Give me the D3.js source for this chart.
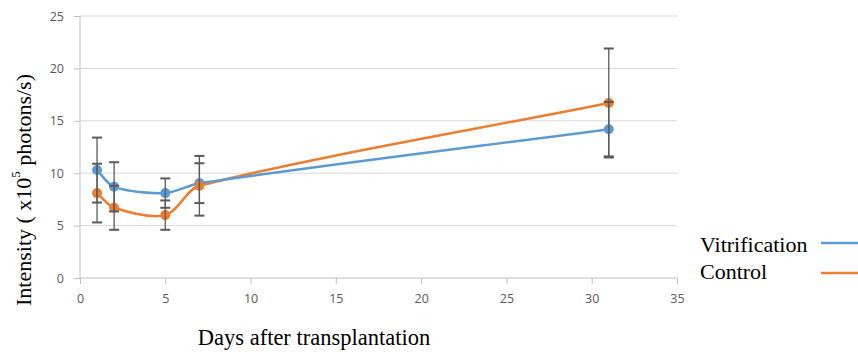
<!DOCTYPE html>
<html><head><meta charset="utf-8">
<script src="https://cdn.jsdelivr.net/npm/d3@7"></script>
<style>body{margin:0;background:#fff}svg{display:block}</style>
</head><body>
<svg id="c" width="858" height="352"></svg>
<script>
const days = [1, 2, 5, 7, 31];
const vitrification = [10.3, 8.7, 8.1, 9.05, 14.2];
const vitrificationErr = [3.1, 2.35, 1.4, 1.9, 2.6];
const control = [8.1, 6.7, 6.0, 8.8, 16.7];
const controlErr = [2.8, 2.1, 1.4, 2.85, 5.2];
const xTicks = [0, 5, 10, 15, 20, 25, 30, 35];
const yTicks = [0, 5, 10, 15, 20, 25];
const seriesNames = ["Vitrification", "Control"];
const colors = ["#5B9BD5", "#ED7D31"];

const SERIF = "Liberation Serif, Times New Roman, Times, Tinos, DejaVu Serif, Noto Serif, serif";
const svg = d3.select("#c");
const x = d3.scaleLinear().domain([0, 35]).range([80, 677]);
const y = d3.scaleLinear().domain([0, 25]).range([278, 16]);

// grid
svg.append("g").selectAll("line").data(yTicks.filter(d => d > 0)).join("line")
  .attr("x1", x(0)).attr("x2", x(35)).attr("y1", d => y(d)).attr("y2", d => y(d))
  .attr("stroke", "#d9d9d9").attr("stroke-width", 1);

// y axis
const yAxis = svg.append("g").attr("transform", `translate(${x(0)},0)`)
  .call(d3.axisLeft(y).tickValues(yTicks).tickSize(6).tickPadding(10));
yAxis.select(".domain").attr("stroke", "#bfbfbf").attr("d", `M0,${y(0)}V${y(25)}`);
yAxis.selectAll(".tick line").attr("stroke", "#bfbfbf");
yAxis.selectAll("text").attr("fill", "#595959").attr("font-family", "Open Sans, sans-serif").attr("font-size", "12.5px");

// x axis
const xAxis = svg.append("g").attr("transform", `translate(0,${y(0)})`)
  .call(d3.axisBottom(x).tickValues(xTicks).tickSize(6).tickPadding(10));
xAxis.select(".domain").attr("stroke", "#bfbfbf").attr("d", `M${x(0)},0H${x(35)}`);
xAxis.selectAll(".tick line").attr("stroke", "#bfbfbf");
xAxis.selectAll("text").attr("fill", "#595959").attr("font-family", "Open Sans, sans-serif").attr("font-size", "12.5px");

const series = [
  {name: seriesNames[0], vals: vitrification, err: vitrificationErr, color: colors[0]},
  {name: seriesNames[1], vals: control, err: controlErr, color: colors[1]}
];

// Excel-like smoothing: tangent direction from neighbours, length scaled by the segment being drawn
function smoothPath(pts, k) {
  const p = d3.path();
  const n = pts.length;
  const dir = pts.map((q, i) => {
    const a = pts[Math.max(0, i - 1)], b = pts[Math.min(n - 1, i + 1)];
    const dx = b[0] - a[0], dy = b[1] - a[1], L = Math.hypot(dx, dy) || 1;
    return [dx / L, dy / L];
  });
  p.moveTo(pts[0][0], pts[0][1]);
  for (let i = 0; i < n - 1; i++) {
    const a = pts[i], b = pts[i + 1];
    const L = Math.hypot(b[0] - a[0], b[1] - a[1]) * k;
    p.bezierCurveTo(a[0] + dir[i][0] * L, a[1] + dir[i][1] * L,
                    b[0] - dir[i + 1][0] * L, b[1] - dir[i + 1][1] * L, b[0], b[1]);
  }
  return p.toString();
}

// lines
series.slice().reverse().forEach(s => {
  const pts = days.map((d, i) => [x(d), y(s.vals[i])]);
  svg.append("path").attr("d", smoothPath(pts, 0.3))
    .attr("fill", "none").attr("stroke", s.color).attr("stroke-width", 2.5);
});
// markers
series.forEach(s => {
  svg.append("g").selectAll("circle").data(days.map((d, i) => [d, s.vals[i]])).join("circle")
    .attr("cx", d => x(d[0])).attr("cy", d => y(d[1])).attr("r", 5).attr("fill", s.color);
});
// error bars
series.forEach(s => {
  const g = svg.append("g").attr("stroke", "#5a5a5a").attr("stroke-width", 1.3);
  days.forEach((d, i) => {
    const lo = s.vals[i] - s.err[i], hi = s.vals[i] + s.err[i];
    g.append("line").attr("x1", x(d)).attr("x2", x(d)).attr("y1", y(lo)).attr("y2", y(hi));
    g.append("line").attr("x1", x(d) - 5).attr("x2", x(d) + 5).attr("y1", y(lo)).attr("y2", y(lo)).attr("stroke-width", 2);
    g.append("line").attr("x1", x(d) - 5).attr("x2", x(d) + 5).attr("y1", y(hi)).attr("y2", y(hi)).attr("stroke-width", 2);
  });
});

// axis titles
const yt = svg.append("text").attr("font-family", SERIF).attr("font-size", 22).attr("fill", "#000")
  .attr("transform", "translate(23,190) rotate(-90)")
  .attr("text-anchor", "middle").attr("dominant-baseline", "central");
yt.append("tspan").text("Intensity ( x10");
yt.append("tspan").text("5").attr("baseline-shift", "super").attr("font-size", 13);
yt.append("tspan").text(" photons/s)");

svg.append("text").attr("font-family", SERIF).attr("font-size", 22.5).attr("fill", "#000")
  .attr("x", 314).attr("y", 345).attr("text-anchor", "middle")
  .text("Days after transplantation");

// legend
series.forEach((s, i) => {
  svg.append("text").attr("font-family", SERIF).attr("font-size", 22).attr("fill", "#000")
    .attr("x", 700).attr("y", 252 + i * 26.5).text(s.name);
  const ly = 243 + i * 30;
  svg.append("line").attr("x1", 821).attr("x2", 860).attr("y1", ly).attr("y2", ly)
    .attr("stroke", s.color).attr("stroke-width", 2.5);
});
</script>
</body></html>
